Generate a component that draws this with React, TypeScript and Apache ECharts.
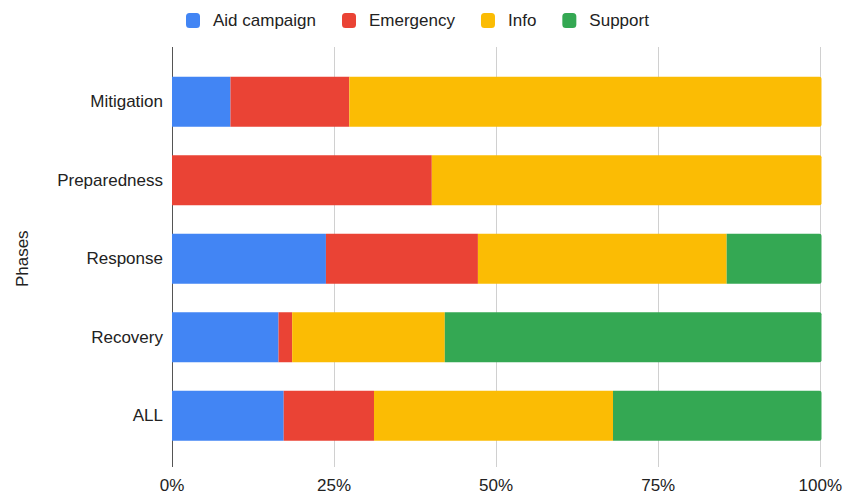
import React, { useEffect, useRef } from "react";
import * as echarts from "echarts";

const phases = ["Mitigation", "Preparedness", "Response", "Recovery", "ALL"];
const seriesNames = ["Aid campaign", "Emergency", "Info", "Support"];
const aidCampaign = [9.0, 0, 23.7, 16.4, 17.2];
const emergency = [18.3, 40.0, 23.4, 2.1, 13.9];
const info = [72.7, 60.0, 38.3, 23.5, 36.8];
const support = [0, 0, 14.6, 58.0, 32.1];
const colors = ["#4285F4", "#EA4335", "#FBBC04", "#34A853"];
const tickValues = [0, 25, 50, 75, 100];

const FONT = "'Liberation Sans', Arial, sans-serif";

export default function App() {
  const ref = useRef<HTMLDivElement>(null);

  useEffect(() => {
    if (!ref.current) return;
    const chart = echarts.init(ref.current, undefined, { renderer: "svg" });
    const all = [aidCampaign, emergency, info, support];
    const lastIdx = phases.map((_, i) => {
      let last = 0;
      all.forEach((arr, s) => {
        if (arr[i] > 0) last = s;
      });
      return last;
    });

    const series: any[] = all.map((arr, s) => ({
      name: seriesNames[s],
      type: "bar",
      stack: "total",
      xAxisIndex: 1,
      yAxisIndex: 1,
      barWidth: 50,
      itemStyle: { color: colors[s] },
      data: arr.map((v, i) => ({
        value: v,
        itemStyle: {
          color: colors[s],
          borderRadius: lastIdx[i] === s ? [0, 2, 2, 0] : 0,
        },
      })),
    }));

    chart.setOption({
      animation: false,
      textStyle: { fontFamily: FONT },
      color: colors,
      legend: {
        top: 12,
        left: 186,
        padding: 0,
        icon: "roundRect",
        itemWidth: 14,
        itemHeight: 15,
        itemGap: 26,
        data: seriesNames,
        textStyle: {
          fontSize: 17,
          color: "#222",
          fontFamily: FONT,
          padding: [0, 0, 0, 8],
        },
      },
      grid: [
        { left: 172, right: 23.5, top: 47, bottom: 28 },
        { left: 172, right: 23.5, top: 62.5, bottom: 40 },
      ],
      xAxis: [
        {
          gridIndex: 0,
          type: "value",
          min: 0,
          max: 100,
          interval: 25,
          axisLine: { show: false },
          axisTick: { show: false },
          splitLine: {
            show: true,
            lineStyle: { color: ["#555", "#d0d0d0", "#d0d0d0", "#d0d0d0", "#d0d0d0"], width: 1 },
          },
          axisLabel: {
            margin: 10,
            fontSize: 17,
            color: "#222",
            fontFamily: FONT,
            formatter: (v: number) => (tickValues.includes(v) ? v + "%" : ""),
          },
        },
        {
          gridIndex: 1,
          type: "value",
          min: 0,
          max: 100,
          show: false,
          splitLine: { show: false },
        },
      ],
      yAxis: [
        {
          gridIndex: 0,
          type: "category",
          show: false,
          data: phases,
        },
        {
          gridIndex: 1,
          type: "category",
          data: phases,
          inverse: true,
          axisLine: { show: false },
          axisTick: { show: false },
          axisLabel: { margin: 9, fontSize: 17, color: "#222", fontFamily: FONT },
          name: "Phases",
          nameLocation: "middle",
          nameGap: 141,
          nameRotate: 90,
          nameTextStyle: { fontSize: 17, color: "#222", fontFamily: FONT },
        },
      ],
      series,
    });

    return () => chart.dispose();
  }, []);

  return (
    <div
      ref={ref}
      style={{ position: "absolute", left: 0, top: 0, width: 845, height: 495, background: "#fff" }}
    />
  );
}
